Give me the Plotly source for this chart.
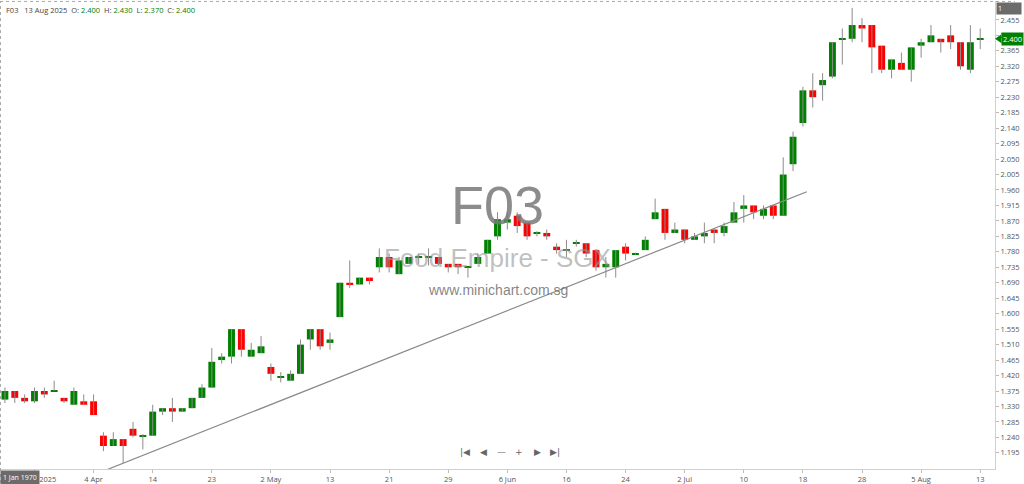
import plotly.graph_objects as go

# ---------------- data ----------------
DATES = [
    "2025-03-21", "2025-03-24", "2025-03-25", "2025-03-26", "2025-03-27", "2025-03-28",
    "2025-04-01", "2025-04-02", "2025-04-03", "2025-04-04",
    "2025-04-07", "2025-04-08", "2025-04-09", "2025-04-10", "2025-04-11",
    "2025-04-14", "2025-04-15", "2025-04-16", "2025-04-17",
    "2025-04-21", "2025-04-22", "2025-04-23", "2025-04-24", "2025-04-25",
    "2025-04-28", "2025-04-29", "2025-04-30", "2025-05-02",
    "2025-05-05", "2025-05-06", "2025-05-07", "2025-05-08", "2025-05-09",
    "2025-05-13", "2025-05-14", "2025-05-15", "2025-05-16",
    "2025-05-19", "2025-05-20", "2025-05-21", "2025-05-22", "2025-05-23",
    "2025-05-26", "2025-05-27", "2025-05-28", "2025-05-29", "2025-05-30",
    "2025-06-02", "2025-06-03", "2025-06-04", "2025-06-05", "2025-06-06",
    "2025-06-09", "2025-06-10", "2025-06-11", "2025-06-12", "2025-06-13",
    "2025-06-16", "2025-06-17", "2025-06-18", "2025-06-19", "2025-06-20",
    "2025-06-23", "2025-06-24", "2025-06-25", "2025-06-26", "2025-06-27",
    "2025-06-30", "2025-07-01", "2025-07-02", "2025-07-03", "2025-07-04",
    "2025-07-07", "2025-07-08", "2025-07-09", "2025-07-10", "2025-07-11",
    "2025-07-14", "2025-07-15", "2025-07-16", "2025-07-17", "2025-07-18",
    "2025-07-21", "2025-07-22", "2025-07-23", "2025-07-24", "2025-07-25",
    "2025-07-28", "2025-07-29", "2025-07-30", "2025-07-31", "2025-08-01",
    "2025-08-04", "2025-08-05", "2025-08-06", "2025-08-07", "2025-08-08",
    "2025-08-11", "2025-08-12", "2025-08-13",
]

OPEN = [
    1.350, 1.375, 1.355, 1.345, 1.375, 1.375, 1.355, 1.335, 1.345, 1.345,
    1.245, 1.215, 1.235, 1.265, 1.245, 1.245, 1.315, 1.325, 1.315, 1.325,
    1.355, 1.385, 1.465, 1.475, 1.555, 1.475, 1.485, 1.445, 1.415, 1.405,
    1.425, 1.525, 1.555, 1.515, 1.590, 1.690, 1.685, 1.705, 1.735, 1.765,
    1.715, 1.745, 1.765, 1.765, 1.765, 1.745, 1.745, 1.735, 1.745, 1.775,
    1.825, 1.865, 1.885, 1.865, 1.835, 1.835, 1.795, 1.785, 1.805, 1.805,
    1.785, 1.735, 1.735, 1.795, 1.775, 1.785, 1.875, 1.905, 1.835, 1.845,
    1.815, 1.825, 1.845, 1.835, 1.865, 1.905, 1.915, 1.885, 1.915, 1.885,
    2.035, 2.155, 2.250, 2.265, 2.290, 2.400, 2.400, 2.440, 2.440, 2.380,
    2.310, 2.330, 2.310, 2.380, 2.390, 2.400, 2.410, 2.390, 2.310, 2.400,
]
HIGH = [
    1.385, 1.375, 1.365, 1.385, 1.385, 1.405, 1.355, 1.385, 1.365, 1.365,
    1.255, 1.255, 1.235, 1.285, 1.250, 1.335, 1.325, 1.355, 1.325, 1.355,
    1.395, 1.500, 1.485, 1.555, 1.555, 1.515, 1.535, 1.455, 1.430, 1.435,
    1.525, 1.555, 1.555, 1.545, 1.690, 1.755, 1.705, 1.705, 1.790, 1.775,
    1.765, 1.765, 1.775, 1.790, 1.765, 1.745, 1.745, 1.735, 1.775, 1.815,
    1.895, 1.895, 1.895, 1.865, 1.840, 1.845, 1.805, 1.815, 1.815, 1.805,
    1.785, 1.765, 1.785, 1.805, 1.778, 1.825, 1.935, 1.905, 1.865, 1.845,
    1.835, 1.865, 1.845, 1.865, 1.925, 1.945, 1.915, 1.915, 1.915, 2.055,
    2.130, 2.260, 2.300, 2.300, 2.390, 2.430, 2.490, 2.460, 2.440, 2.380,
    2.340, 2.360, 2.375, 2.400, 2.440, 2.400, 2.440, 2.390, 2.440, 2.430,
]
LOW = [
    1.340, 1.340, 1.340, 1.340, 1.355, 1.375, 1.340, 1.335, 1.335, 1.305,
    1.200, 1.215, 1.166, 1.240, 1.205, 1.245, 1.305, 1.285, 1.315, 1.325,
    1.355, 1.385, 1.455, 1.455, 1.475, 1.475, 1.485, 1.405, 1.400, 1.405,
    1.425, 1.495, 1.495, 1.495, 1.590, 1.675, 1.685, 1.685, 1.720, 1.720,
    1.715, 1.745, 1.745, 1.740, 1.740, 1.720, 1.715, 1.705, 1.745, 1.775,
    1.815, 1.845, 1.835, 1.815, 1.825, 1.815, 1.775, 1.765, 1.795, 1.765,
    1.725, 1.705, 1.705, 1.755, 1.772, 1.785, 1.875, 1.815, 1.835, 1.805,
    1.815, 1.805, 1.805, 1.825, 1.865, 1.865, 1.875, 1.875, 1.875, 1.885,
    2.015, 2.145, 2.200, 2.220, 2.285, 2.325, 2.390, 2.390, 2.300, 2.300,
    2.285, 2.310, 2.275, 2.345, 2.390, 2.360, 2.370, 2.310, 2.300, 2.370,
]
CLOSE = [
    1.375, 1.355, 1.345, 1.375, 1.365, 1.375, 1.345, 1.375, 1.335, 1.305,
    1.215, 1.235, 1.215, 1.245, 1.245, 1.315, 1.325, 1.315, 1.325, 1.355,
    1.385, 1.460, 1.475, 1.555, 1.495, 1.495, 1.505, 1.425, 1.415, 1.425,
    1.510, 1.555, 1.505, 1.525, 1.690, 1.685, 1.705, 1.695, 1.765, 1.735,
    1.755, 1.765, 1.765, 1.765, 1.745, 1.735, 1.735, 1.735, 1.765, 1.815,
    1.875, 1.875, 1.855, 1.825, 1.835, 1.825, 1.785, 1.785, 1.805, 1.775,
    1.735, 1.745, 1.785, 1.775, 1.775, 1.815, 1.895, 1.835, 1.845, 1.815,
    1.825, 1.835, 1.835, 1.855, 1.895, 1.915, 1.895, 1.905, 1.885, 2.005,
    2.115, 2.250, 2.230, 2.280, 2.390, 2.400, 2.440, 2.430, 2.375, 2.310,
    2.340, 2.310, 2.375, 2.390, 2.410, 2.390, 2.390, 2.320, 2.390, 2.400,
]

TICK_DATES = ["2025-03-26", "2025-04-04", "2025-04-14", "2025-04-23", "2025-05-02",
              "2025-05-13", "2025-05-21", "2025-05-29", "2025-06-06", "2025-06-16",
              "2025-06-24", "2025-07-02", "2025-07-10", "2025-07-18", "2025-07-28",
              "2025-08-05", "2025-08-13"]
TICK_TEXT = ["26 Mar 2025", "4 Apr", "14", "23", "2 May", "13", "21", "29", "6 Jun",
             "16", "24", "2 Jul", "10", "18", "28", "5 Aug", "13"]

Y_TICK_START = 1.195
Y_TICK_STEP = 0.045

# trend line drawn by the user: (candle index, price)
TREND_START = (10.0, 1.142)
TREND_END = (81.4, 1.955)

LAST_PRICE = 2.400

# ---------------- styling ----------------
GREEN = "#008000"
RED = "#ff0000"
WICK = "#8c8c8c"
FONT = "Open Sans"
PX_PRICE = 0.0029  # about one pixel in price units (doji thickness)

body_base = []
body_h = []
colors = []
for o, c in zip(OPEN, CLOSE):
    if c == o:
        body_base.append(o - PX_PRICE / 2)
        body_h.append(PX_PRICE)
    else:
        body_base.append(min(o, c))
        body_h.append(abs(c - o))
    colors.append(GREEN if c >= o else RED)

wx, wy = [], []
for d, lo, hi in zip(DATES, LOW, HIGH):
    wx += [d, d, d]
    wy += [lo, hi, None]

fig = go.Figure()
fig.add_trace(go.Scatter(x=wx, y=wy, mode="lines", line=dict(color=WICK, width=1),
                         hoverinfo="skip", showlegend=False, connectgaps=False))
fig.add_trace(go.Bar(x=DATES, y=body_h, base=body_base, marker=dict(color=colors, line=dict(width=0)),
                     width=0.7, hoverinfo="skip", showlegend=False))

# trendline
fig.add_shape(type="line", xref="x", yref="y", x0=TREND_START[0], y0=TREND_START[1],
              x1=TREND_END[0], y1=TREND_END[1], line=dict(color="#8a8a8a", width=1.2), layer="above")

y_ticks = [round(Y_TICK_START + k * Y_TICK_STEP, 3) for k in range(29)]

fig.update_layout(
    width=1024, height=484,
    margin=dict(l=0, r=29, t=1, b=15, pad=0),
    paper_bgcolor="white", plot_bgcolor="white",
    bargap=0.3,
    font=dict(family=FONT, color="#555", size=8),
    xaxis=dict(type="category", categoryorder="array", categoryarray=DATES,
               range=[-0.5, 100.5], tickmode="array", tickvals=TICK_DATES, ticktext=TICK_TEXT,
               showgrid=False, zeroline=False, showline=True, linecolor="#d0d0d0", linewidth=1,
               ticks="outside", ticklen=3, tickcolor="#bbb", tickfont=dict(size=7.5, color="#555"),
               fixedrange=True),
    yaxis=dict(side="right", range=[1.148, 2.510], tickmode="array", tickvals=y_ticks,
               ticktext=[f"{v:.3f}" for v in y_ticks],
               showgrid=False, zeroline=False, showline=True, linecolor="#d0d0d0", linewidth=1,
               ticks="outside", ticklen=3, tickcolor="#bbb", tickfont=dict(size=7.5, color="#555"),
               fixedrange=True),
)

# border dotted lines (top & left)
fig.add_shape(type="line", xref="paper", yref="paper", x0=0, x1=1.02, y0=0.999, y1=0.999,
              line=dict(color="#aaa", width=1, dash="dot"))
fig.add_shape(type="line", xref="paper", yref="paper", x0=0.0005, x1=0.0005, y0=-0.03, y1=1,
              line=dict(color="#aaa", width=1, dash="dot"))

# header
hdr = (f"<span style='color:#444'>F03&nbsp;&nbsp;&nbsp;13 Aug 2025&nbsp;&nbsp;O:&nbsp;</span>"
       f"<span style='color:{GREEN}'>{OPEN[-1]:.3f}</span>"
       f"<span style='color:#444'>&nbsp;&nbsp;H:&nbsp;</span><span style='color:{GREEN}'>{HIGH[-1]:.3f}</span>"
       f"<span style='color:#444'>&nbsp;&nbsp;L:&nbsp;</span><span style='color:{GREEN}'>{LOW[-1]:.3f}</span>"
       f"<span style='color:#444'>&nbsp;&nbsp;C:&nbsp;</span><span style='color:{GREEN}'>{CLOSE[-1]:.3f}</span>")
fig.add_annotation(xref="paper", yref="paper", x=0.004, y=0.995, xanchor="left", yanchor="top",
                   text=hdr, showarrow=False, font=dict(size=7.5, family=FONT))

# watermark
fig.add_annotation(xref="paper", yref="paper", x=0.5, y=0.565, text="F03", showarrow=False,
                   font=dict(family="Liberation Sans", size=54, color="rgba(120,120,120,0.85)"))
fig.add_annotation(xref="paper", yref="paper", x=0.5, y=0.45, text="Food Empire - SGX", showarrow=False,
                   font=dict(family="Liberation Sans", size=26, color="rgba(150,150,150,0.6)"))
fig.add_annotation(xref="paper", yref="paper", x=0.5, y=0.382, text="www.minichart.com.sg", showarrow=False,
                   font=dict(family="Liberation Sans", size=14, color="rgba(110,110,110,0.85)"))

# navigation icons
nav = [("|◀", 465), ("◀", 483), ("—", 501), ("+", 519), ("▶", 537), ("▶|", 555)]
for t, px in nav:
    fig.add_annotation(xref="paper", yref="paper", x=px / 995, y=0.022, text=t, showarrow=False,
                       font=dict(size=9, color="#666", family="DejaVu Sans"))

# "1 Jan 1970" box
fig.add_annotation(xref="paper", yref="paper", x=0.0, y=-0.002, xanchor="left", yanchor="top",
                   text="1 Jan 1970", showarrow=False, bgcolor="#6b6b6b", borderpad=2,
                   font=dict(size=7, color="white", family=FONT))

# "1" box top right
fig.add_annotation(xref="paper", yref="paper", x=1.001, y=0.998, xanchor="left", yanchor="top",
                   text="1", showarrow=False, bgcolor="#6b6b6b", borderpad=1, width=22, height=9,
                   align="left", font=dict(size=7, color="white", family=FONT))

# last price marker
fig.add_annotation(xref="paper", yref="y", x=1.006, y=LAST_PRICE, xanchor="left", yanchor="middle",
                   text=f"{LAST_PRICE:.3f}", showarrow=False, bgcolor=GREEN, borderpad=1,
                   font=dict(size=7.5, color="white", family=FONT))
fig.add_shape(type="path", xref="paper", yref="y",
              path=f"M 1.0,{LAST_PRICE} L 1.0065,{LAST_PRICE + 0.013} L 1.0065,{LAST_PRICE - 0.013} Z",
              fillcolor=GREEN, line=dict(width=0))

fig.write_html("out.html", config={"displayModeBar": False},
               post_script="document.body.style.margin='0';document.body.style.overflow='hidden';")
